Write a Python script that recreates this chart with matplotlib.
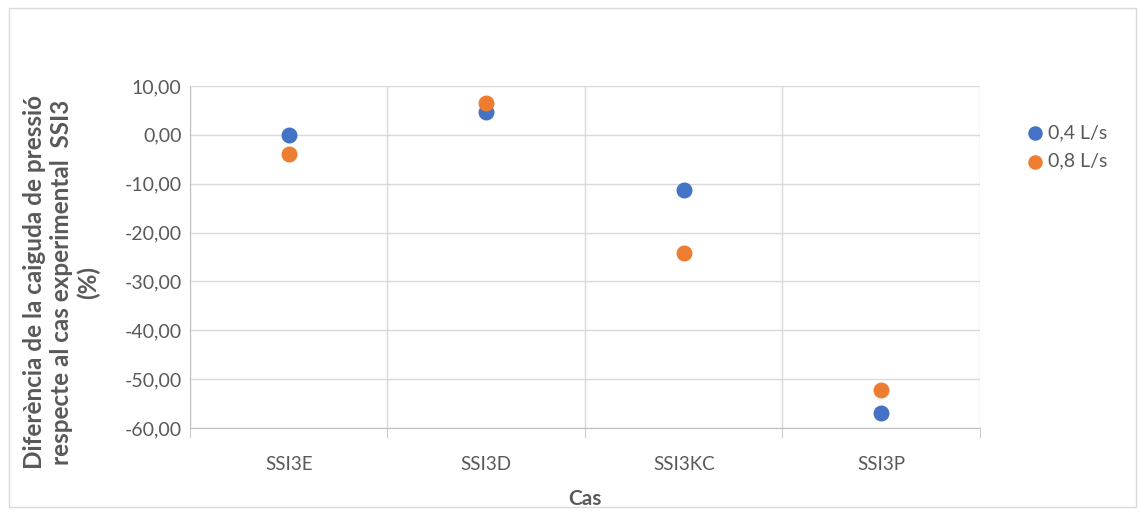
import matplotlib
matplotlib.use('Agg')
import matplotlib.pyplot as plt
from matplotlib.patches import Rectangle
from matplotlib.ticker import FixedLocator, FuncFormatter

cases = ['SSI3E', 'SSI3D', 'SSI3KC', 'SSI3P']
flow_04 = [0.0, 4.7, -11.2, -57.0]
flow_08 = [-3.9, 6.5, -24.1, -52.3]
series_labels = ['0,4 L/s', '0,8 L/s']
yticks = [10, 0, -10, -20, -30, -40, -50, -60]

plt.rcParams['font.family'] = ['Lato', 'DejaVu Sans']

fig = plt.figure(figsize=(11.41, 5.13), dpi=100)
fig.patches.append(Rectangle((0.008, 0.012), 0.988, 0.972, transform=fig.transFigure,
                             fill=False, edgecolor='#d9d9d9', linewidth=1))
ax = fig.add_axes([0.1665, 0.1657, 0.6924, 0.6667])

x = list(range(len(cases)))
ax.scatter(x, flow_04, s=110, color='#4472c4', label=series_labels[0], zorder=3)
ax.scatter(x, flow_08, s=110, color='#ed7d31', label=series_labels[1], zorder=3)

ax.set_xlim(-0.5, len(cases) - 0.5)
ax.set_ylim(-60, 10)
ax.set_yticks(yticks)
ax.yaxis.set_major_formatter(FuncFormatter(lambda v, p: f'{v:.2f}'.replace('.', ',')))
ax.set_xticks(x)
ax.set_xticklabels(cases)
ax.xaxis.set_minor_locator(FixedLocator([i + 0.5 for i in range(-1, len(cases))]))

ax.grid(True, axis='y', color='#d9d9d9', linewidth=1)
ax.grid(True, axis='x', which='minor', color='#d9d9d9', linewidth=1)
ax.set_axisbelow(True)

for side in ['top', 'right']:
    ax.spines[side].set_visible(False)
ax.spines['left'].set_color('#bfbfbf')
ax.spines['bottom'].set_color('#bfbfbf')
ax.tick_params(axis='x', which='major', length=0, pad=20, labelsize=13.5, labelcolor='#595959')
ax.tick_params(axis='x', which='minor', length=7, color='#bfbfbf')
ax.tick_params(axis='y', length=0, pad=6, labelsize=14, labelcolor='#595959')

ax.set_xlabel('Cas', fontsize=15, fontweight='bold', color='#595959', labelpad=12)
fig.text(0.054, 0.45,
         'Diferència de la caiguda de pressió\nrespecte al cas experimental  SSI3\n(%)',
         rotation=90, ha='center', va='center', multialignment='center',
         fontsize=17.5, fontweight='bold', color='#595959', linespacing=1.2)

leg = ax.legend(loc='upper left', bbox_to_anchor=(1.035, 0.94), frameon=False,
                fontsize=14, handlelength=1.0, handletextpad=0.2, markerscale=0.9,
                labelspacing=0.6)
for t in leg.get_texts():
    t.set_color('#595959')

fig.savefig('out.png', dpi=100)
